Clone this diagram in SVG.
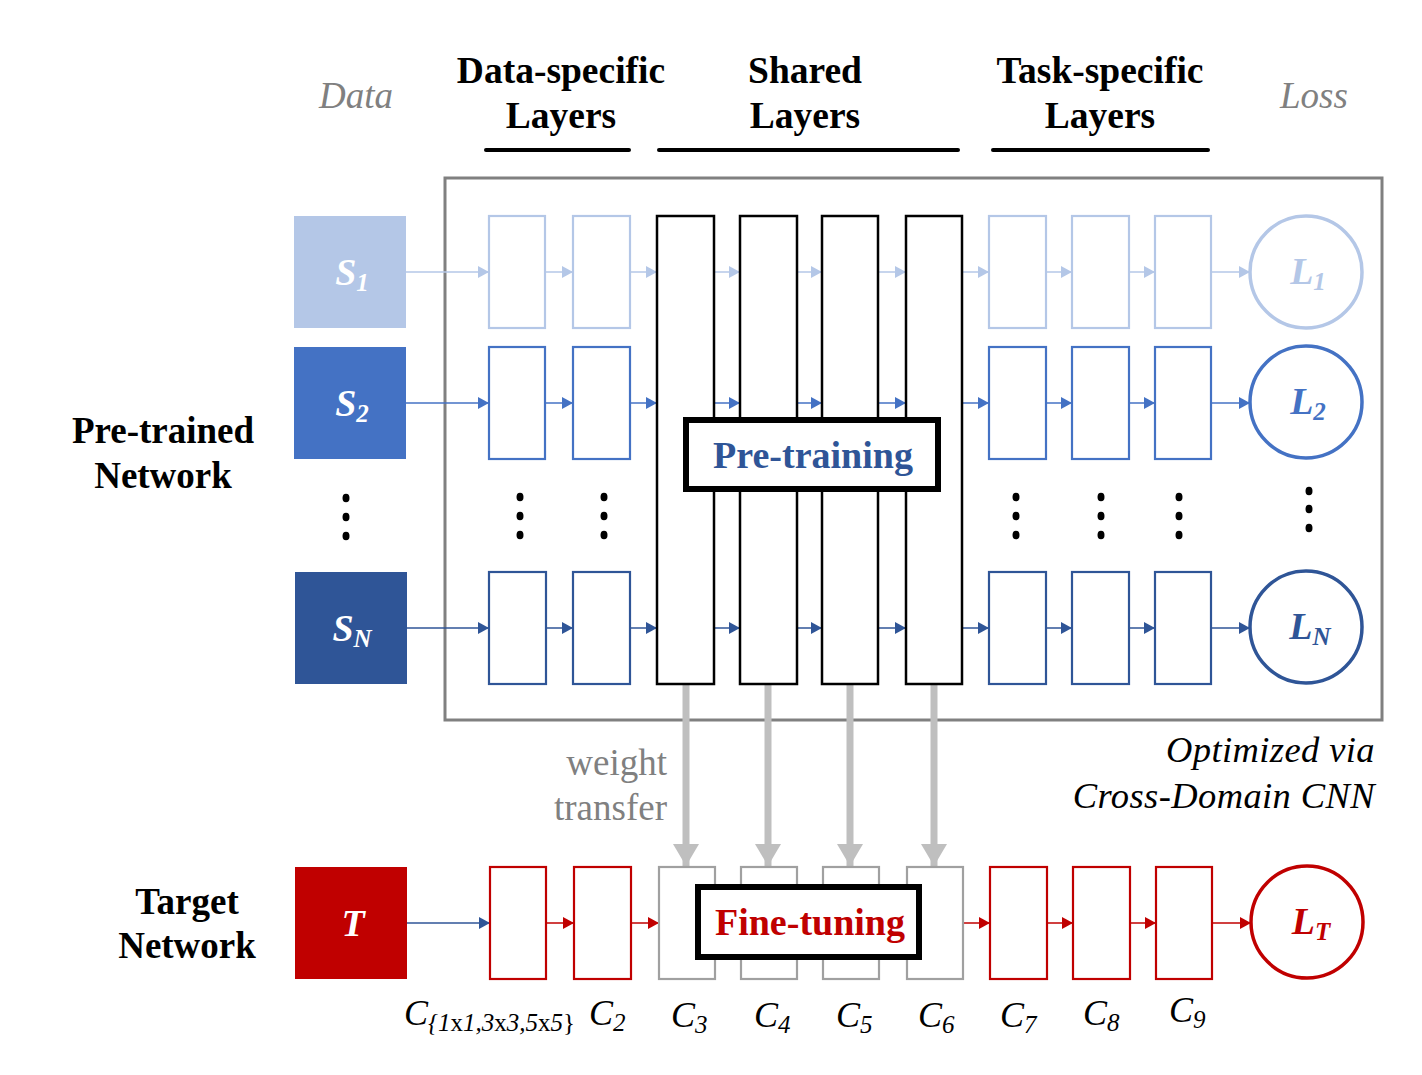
<svg xmlns="http://www.w3.org/2000/svg" width="1422" height="1075" viewBox="0 0 1422 1075">
  <style>
    text { font-family: "Liberation Serif", "Times New Roman", serif; }
    .hdr { font-size: 37.5px; font-weight: bold; fill: #000; text-anchor: middle; }
    .side { font-size: 37px; font-weight: bold; fill: #000; text-anchor: middle; }
    .col { font-size: 37px; font-style: italic; fill: #808080; text-anchor: middle; }
    .rule { stroke: #000; stroke-width: 4; stroke-linecap: round; }
    .lay1 { fill: #fff; stroke: #b4c7e7; stroke-width: 2.2; }
    .lay2 { fill: #fff; stroke: #4472c4; stroke-width: 2.2; }
    .layN { fill: #fff; stroke: #2f5597; stroke-width: 2.2; }
    .layT { fill: #fff; stroke: #c00000; stroke-width: 2.2; }
    .layG { fill: #fff; stroke: #a0a0a0; stroke-width: 2.2; }
    .shared { fill: #fff; stroke: #000; stroke-width: 2.5; }
    .loss1 { fill: #fff; stroke: #b4c7e7; stroke-width: 3.5; }
    .loss2 { fill: #fff; stroke: #4472c4; stroke-width: 3.5; }
    .lossN { fill: #fff; stroke: #2f5597; stroke-width: 3.5; }
    .lossT { fill: #fff; stroke: #c00000; stroke-width: 3.5; }
    .sym { font-size: 38px; font-weight: bold; font-style: italic; text-anchor: middle; }
    .sub { font-size: 25px; }
    .a1 { stroke: #b4c7e7; stroke-width: 1.5; marker-end: url(#h1); }
    .a2 { stroke: #4472c4; stroke-width: 1.5; marker-end: url(#h2); }
    .aN { stroke: #2f5597; stroke-width: 1.5; marker-end: url(#hN); }
    .aT { stroke: #c00000; stroke-width: 1.5; marker-end: url(#hT); }
    .wt { stroke: #bfbfbf; stroke-width: 7; marker-end: url(#hW); }
    .dot { fill: #000; }
    .clab { font-size: 36px; font-style: italic; fill: #000; }
    .csub { font-size: 25px; }
    .stage { fill: #fff; stroke: #000; stroke-width: 6; }
    .gray { font-size: 37px; fill: #808080; text-anchor: end; }
    .opt { font-size: 36.5px; font-style: italic; fill: #000; text-anchor: end; letter-spacing: 0.4px; }
  </style>
  <defs>
    <marker id="h1" markerUnits="userSpaceOnUse" markerWidth="11" markerHeight="12" refX="11" refY="6" orient="auto"><path d="M0,0 L11,6 L0,12 z" fill="#b4c7e7"/></marker>
    <marker id="h2" markerUnits="userSpaceOnUse" markerWidth="11" markerHeight="12" refX="11" refY="6" orient="auto"><path d="M0,0 L11,6 L0,12 z" fill="#4472c4"/></marker>
    <marker id="hN" markerUnits="userSpaceOnUse" markerWidth="11" markerHeight="12" refX="11" refY="6" orient="auto"><path d="M0,0 L11,6 L0,12 z" fill="#2f5597"/></marker>
    <marker id="hT" markerUnits="userSpaceOnUse" markerWidth="11" markerHeight="12" refX="11" refY="6" orient="auto"><path d="M0,0 L11,6 L0,12 z" fill="#c00000"/></marker>
    <marker id="hW" markerUnits="userSpaceOnUse" markerWidth="22" markerHeight="26" refX="22" refY="13" orient="auto"><path d="M0,0 L22,13 L0,26 z" fill="#bfbfbf"/></marker>
  </defs>

  <rect width="1422" height="1075" fill="#fff"/>

  <!-- column headings -->
  <g id="headings">
    <text class="col" x="356" y="108">Data</text>
    <text class="hdr" x="561" y="83">Data-specific</text>
    <text class="hdr" x="561" y="128">Layers</text>
    <text class="hdr" x="805" y="83">Shared</text>
    <text class="hdr" x="805" y="128">Layers</text>
    <text class="hdr" x="1100" y="83">Task-specific</text>
    <text class="hdr" x="1100" y="128">Layers</text>
    <text class="col" x="1314" y="108">Loss</text>
    <line class="rule" x1="486" y1="150" x2="629" y2="150"/>
    <line class="rule" x1="659" y1="150" x2="958" y2="150"/>
    <line class="rule" x1="993" y1="150" x2="1208" y2="150"/>
  </g>

  <!-- cross-domain frame -->
  <g id="frame">
    <rect x="445" y="178" width="937" height="542" fill="none" stroke="#808080" stroke-width="3"/>
  </g>

  <g id="side-labels">
    <text class="side" x="163" y="443">Pre-trained</text>
    <text class="side" x="163" y="488">Network</text>
    <text class="side" x="187" y="914">Target</text>
    <text class="side" x="187" y="958">Network</text>
  </g>

  <!-- data sources -->
  <g id="data-S1">
    <rect x="294" y="216" width="112" height="112" fill="#b4c7e7"/>
    <text class="sym" x="352" y="285" fill="#fff">S<tspan class="sub" dy="6">1</tspan></text>
  </g>
  <g id="data-S2">
    <rect x="294" y="347" width="112" height="112" fill="#4472c4"/>
    <text class="sym" x="352" y="416" fill="#fff">S<tspan class="sub" dy="6">2</tspan></text>
  </g>
  <g id="data-SN">
    <rect x="295" y="572" width="112" height="112" fill="#2f5597"/>
    <text class="sym" x="352" y="641" fill="#fff">S<tspan class="sub" dy="6">N</tspan></text>
  </g>
  <g id="data-T">
    <rect x="295" y="867" width="112" height="112" fill="#c00000"/>
    <text class="sym" x="353" y="936" fill="#fff">T</text>
  </g>

  <!-- connectors -->
  <g id="connectors" fill="none">
    <!-- row 1 -->
    <line class="a1" x1="406" y1="272" x2="489" y2="272"/>
    <line class="a1" x1="545" y1="272" x2="573" y2="272"/>
    <line class="a1" x1="630" y1="272" x2="657" y2="272"/>
    <line class="a1" x1="714" y1="272" x2="740" y2="272"/>
    <line class="a1" x1="797" y1="272" x2="822" y2="272"/>
    <line class="a1" x1="878" y1="272" x2="906" y2="272"/>
    <line class="a1" x1="962" y1="272" x2="989" y2="272"/>
    <line class="a1" x1="1046" y1="272" x2="1072" y2="272"/>
    <line class="a1" x1="1129" y1="272" x2="1155" y2="272"/>
    <line class="a1" x1="1211" y1="272" x2="1250" y2="272"/>
    <!-- row 2 -->
    <line class="a2" x1="406" y1="403" x2="489" y2="403"/>
    <line class="a2" x1="545" y1="403" x2="573" y2="403"/>
    <line class="a2" x1="630" y1="403" x2="657" y2="403"/>
    <line class="a2" x1="714" y1="403" x2="740" y2="403"/>
    <line class="a2" x1="797" y1="403" x2="822" y2="403"/>
    <line class="a2" x1="878" y1="403" x2="906" y2="403"/>
    <line class="a2" x1="962" y1="403" x2="989" y2="403"/>
    <line class="a2" x1="1046" y1="403" x2="1072" y2="403"/>
    <line class="a2" x1="1129" y1="403" x2="1155" y2="403"/>
    <line class="a2" x1="1211" y1="403" x2="1250" y2="403"/>
    <!-- row N -->
    <line class="aN" x1="407" y1="628" x2="489" y2="628"/>
    <line class="aN" x1="545" y1="628" x2="573" y2="628"/>
    <line class="aN" x1="630" y1="628" x2="657" y2="628"/>
    <line class="aN" x1="714" y1="628" x2="740" y2="628"/>
    <line class="aN" x1="797" y1="628" x2="822" y2="628"/>
    <line class="aN" x1="878" y1="628" x2="906" y2="628"/>
    <line class="aN" x1="962" y1="628" x2="989" y2="628"/>
    <line class="aN" x1="1046" y1="628" x2="1072" y2="628"/>
    <line class="aN" x1="1129" y1="628" x2="1155" y2="628"/>
    <line class="aN" x1="1211" y1="628" x2="1250" y2="628"/>
    <!-- target row -->
    <line class="aN" x1="407" y1="923" x2="490" y2="923"/>
    <line class="aT" x1="546" y1="923" x2="574" y2="923"/>
    <line class="aT" x1="631" y1="923" x2="659" y2="923"/>
    <line class="aT" x1="963" y1="923" x2="990" y2="923"/>
    <line class="aT" x1="1047" y1="923" x2="1073" y2="923"/>
    <line class="aT" x1="1130" y1="923" x2="1156" y2="923"/>
    <line class="aT" x1="1212" y1="923" x2="1251" y2="923"/>
    <!-- weight transfer -->
    <line class="wt" x1="686" y1="684" x2="686" y2="866"/>
    <line class="wt" x1="768" y1="684" x2="768" y2="866"/>
    <line class="wt" x1="850" y1="684" x2="850" y2="866"/>
    <line class="wt" x1="934" y1="684" x2="934" y2="866"/>
  </g>

  <!-- data-specific layers -->
  <g id="data-specific-layers">
    <rect class="lay1" x="489" y="216" width="56" height="112"/>
    <rect class="lay1" x="573" y="216" width="57" height="112"/>
    <rect class="lay2" x="489" y="347" width="56" height="112"/>
    <rect class="lay2" x="573" y="347" width="57" height="112"/>
    <rect class="layN" x="489" y="572" width="57" height="112"/>
    <rect class="layN" x="573" y="572" width="57" height="112"/>
  </g>

  <!-- shared layers -->
  <g id="shared-layers">
    <rect class="shared" x="657" y="216" width="57" height="468"/>
    <rect class="shared" x="740" y="216" width="57" height="468"/>
    <rect class="shared" x="822" y="216" width="56" height="468"/>
    <rect class="shared" x="906" y="216" width="56" height="468"/>
  </g>

  <!-- task-specific layers -->
  <g id="task-specific-layers">
    <rect class="lay1" x="989" y="216" width="57" height="112"/>
    <rect class="lay1" x="1072" y="216" width="57" height="112"/>
    <rect class="lay1" x="1155" y="216" width="56" height="112"/>
    <rect class="lay2" x="989" y="347" width="57" height="112"/>
    <rect class="lay2" x="1072" y="347" width="57" height="112"/>
    <rect class="lay2" x="1155" y="347" width="56" height="112"/>
    <rect class="layN" x="989" y="572" width="57" height="112"/>
    <rect class="layN" x="1072" y="572" width="57" height="112"/>
    <rect class="layN" x="1155" y="572" width="56" height="112"/>
  </g>

  <!-- losses -->
  <g id="loss-L1">
    <circle class="loss1" cx="1306" cy="272" r="56"/>
    <text class="sym" x="1308" y="284" fill="#b4c7e7">L<tspan class="sub" dy="6">1</tspan></text>
  </g>
  <g id="loss-L2">
    <circle class="loss2" cx="1306" cy="402" r="56"/>
    <text class="sym" x="1308" y="414" fill="#4472c4">L<tspan class="sub" dy="6">2</tspan></text>
  </g>
  <g id="loss-LN">
    <circle class="lossN" cx="1306" cy="627" r="56"/>
    <text class="sym" x="1310" y="639" fill="#2f5597">L<tspan class="sub" dy="6">N</tspan></text>
  </g>
  <g id="loss-LT">
    <circle class="lossT" cx="1307" cy="922" r="56"/>
    <text class="sym" x="1311" y="934" fill="#c00000">L<tspan class="sub" dy="6">T</tspan></text>
  </g>

  <!-- ellipsis dots -->
  <g id="ellipses">
    <ellipse class="dot" cx="346" cy="498" rx="3.5" ry="4.3"/>
    <ellipse class="dot" cx="346" cy="517" rx="3.5" ry="4.3"/>
    <ellipse class="dot" cx="346" cy="536" rx="3.5" ry="4.3"/>
    <ellipse class="dot" cx="520" cy="497" rx="3.5" ry="4.3"/>
    <ellipse class="dot" cx="520" cy="516" rx="3.5" ry="4.3"/>
    <ellipse class="dot" cx="520" cy="535" rx="3.5" ry="4.3"/>
    <ellipse class="dot" cx="604" cy="497" rx="3.5" ry="4.3"/>
    <ellipse class="dot" cx="604" cy="516" rx="3.5" ry="4.3"/>
    <ellipse class="dot" cx="604" cy="535" rx="3.5" ry="4.3"/>
    <ellipse class="dot" cx="1016" cy="497" rx="3.5" ry="4.3"/>
    <ellipse class="dot" cx="1016" cy="516" rx="3.5" ry="4.3"/>
    <ellipse class="dot" cx="1016" cy="535" rx="3.5" ry="4.3"/>
    <ellipse class="dot" cx="1101" cy="497" rx="3.5" ry="4.3"/>
    <ellipse class="dot" cx="1101" cy="516" rx="3.5" ry="4.3"/>
    <ellipse class="dot" cx="1101" cy="535" rx="3.5" ry="4.3"/>
    <ellipse class="dot" cx="1179" cy="497" rx="3.5" ry="4.3"/>
    <ellipse class="dot" cx="1179" cy="516" rx="3.5" ry="4.3"/>
    <ellipse class="dot" cx="1179" cy="535" rx="3.5" ry="4.3"/>
    <ellipse class="dot" cx="1309" cy="491" rx="3.5" ry="4.3"/>
    <ellipse class="dot" cx="1309" cy="509" rx="3.5" ry="4.3"/>
    <ellipse class="dot" cx="1309" cy="528" rx="3.5" ry="4.3"/>
  </g>

  <!-- pre-training stage label -->
  <g id="pre-training">
    <rect class="stage" x="686" y="420" width="252" height="69"/>
    <text x="813" y="468" font-size="38" font-weight="bold" fill="#2f5597" text-anchor="middle">Pre-training</text>
  </g>

  <!-- target network layers -->
  <g id="target-layers">
    <rect class="layT" x="490" y="867" width="56" height="112"/>
    <rect class="layT" x="574" y="867" width="57" height="112"/>
    <rect class="layG" x="659" y="867" width="56" height="112"/>
    <rect class="layG" x="741" y="867" width="56" height="112"/>
    <rect class="layG" x="823" y="867" width="56" height="112"/>
    <rect class="layG" x="907" y="867" width="56" height="112"/>
    <rect class="layT" x="990" y="867" width="57" height="112"/>
    <rect class="layT" x="1073" y="867" width="57" height="112"/>
    <rect class="layT" x="1156" y="867" width="56" height="112"/>
  </g>

  <!-- fine-tuning stage label -->
  <g id="fine-tuning">
    <rect class="stage" x="698" y="887" width="221" height="70"/>
    <text x="810" y="935" font-size="38" font-weight="bold" fill="#c00000" text-anchor="middle">Fine-tuning</text>
  </g>

  <!-- annotations -->
  <g id="annotations">
    <text class="gray" x="667" y="775">weight</text>
    <text class="gray" x="667" y="820">transfer</text>
    <text class="opt" x="1375" y="762">Optimized via</text>
    <text class="opt" x="1375" y="808">Cross-Domain CNN</text>
  </g>

  <!-- layer labels -->
  <g id="layer-labels">
    <text class="clab" x="404" y="1025">C<tspan class="csub" dy="6">{</tspan><tspan class="csub">1</tspan><tspan class="csub" font-style="normal">x</tspan><tspan class="csub">1,3</tspan><tspan class="csub" font-style="normal">x</tspan><tspan class="csub">3,5</tspan><tspan class="csub" font-style="normal">x</tspan><tspan class="csub">5</tspan><tspan class="csub" font-style="normal">}</tspan></text>
    <text class="clab" x="589" y="1025">C<tspan class="csub" dy="6">2</tspan></text>
    <text class="clab" x="671" y="1027">C<tspan class="csub" dy="6">3</tspan></text>
    <text class="clab" x="754" y="1027">C<tspan class="csub" dy="6">4</tspan></text>
    <text class="clab" x="836" y="1027">C<tspan class="csub" dy="6">5</tspan></text>
    <text class="clab" x="918" y="1027">C<tspan class="csub" dy="6">6</tspan></text>
    <text class="clab" x="1000" y="1027">C<tspan class="csub" dy="6">7</tspan></text>
    <text class="clab" x="1083" y="1025">C<tspan class="csub" dy="6">8</tspan></text>
    <text class="clab" x="1169" y="1022">C<tspan class="csub" dy="6">9</tspan></text>
  </g>
</svg>
